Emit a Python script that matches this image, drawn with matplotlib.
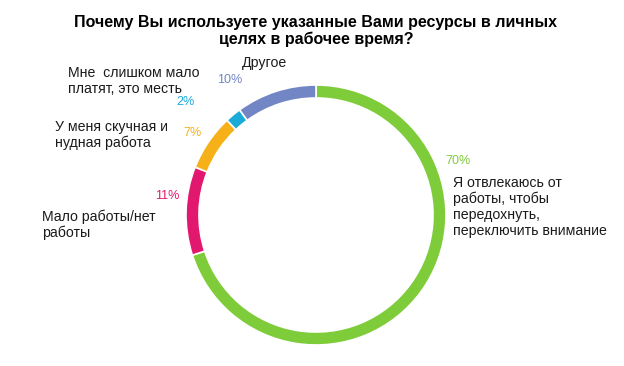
import matplotlib.pyplot as plt

# Data
labels = ['Я отвлекаюсь от\nработы, чтобы\nпередохнуть,\nпереключить внимание',
          'Мало работы/нет\nработы',
          'У меня скучная и\nнудная работа',
          'Мне  слишком мало\nплатят, это месть',
          'Другое']
values = [70, 11, 7, 2, 10]
colors = ['#7fcc3a', '#e2186f', '#f6b018', '#1aabd9', '#7286c6']
pct_text = ['70%', '11%', '7%', '2%', '10%']

plt.rcParams['font.family'] = ['Liberation Sans', 'DejaVu Sans']

W, H = 624, 366
fig = plt.figure(figsize=(W / 100, H / 100), dpi=100)
ax = fig.add_axes([0, 0, 1, 1])

# donut ring
ax.pie(values, colors=colors, startangle=90, counterclock=False,
       center=(316, H - 215), radius=130, frame=True,
       wedgeprops=dict(width=13, edgecolor='white', linewidth=1.2))
ax.set_xlim(0, W)
ax.set_ylim(0, H)
ax.axis('off')

ax.text(316, H - 31, 'Почему Вы используете указанные Вами ресурсы в личных\nцелях в рабочее время?',
        ha='center', va='center', fontsize=11.5, fontweight='bold', linespacing=1.1)

# percentage labels (pixel positions)
pct_pos = [(445, 161), (155, 196), (183, 133), (176, 102), (217, 80)]
for (x, y), t, c in zip(pct_pos, pct_text, colors):
    ax.text(x, H - y, t, color=c, fontsize=9, ha='left', va='center')

# category labels
lab_pos = [(453, 207), (42, 225), (55, 135), (68, 81), (242, 63)]
for (x, y), t in zip(lab_pos, labels):
    ax.text(x, H - y, t, color='#1a1a1a', fontsize=10.2, ha='left', va='center', linespacing=1.15)

fig.savefig('out.png', dpi=100)
